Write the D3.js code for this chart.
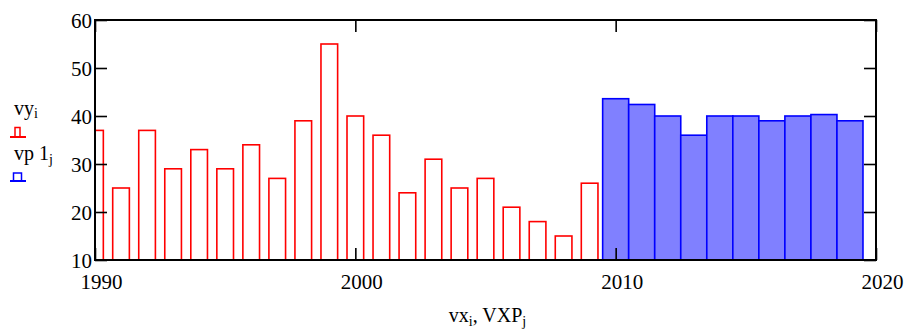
<!DOCTYPE html>
<html>
<head>
<meta charset="utf-8">
<script src="https://cdn.jsdelivr.net/npm/d3@7"></script>
<style>
  body { margin: 0; background: #fff; }
  svg { display: block; }
</style>
</head>
<body>
<svg id="chart" width="907" height="334"></svg>
<script>
// measured series (red outline bars)
const vxYears = [1990, 1991, 1992, 1993, 1994, 1995, 1996, 1997, 1998, 1999,
                 2000, 2001, 2002, 2003, 2004, 2005, 2006, 2007, 2008, 2009];
const vyValues = [37, 25, 37, 29, 33, 29, 34, 27, 39, 55,
                  40, 36, 24, 31, 25, 27, 21, 18, 15, 26];

// projected series (blue filled bars)
const vxpYears = [2010, 2011, 2012, 2013, 2014, 2015, 2016, 2017, 2018, 2019];
const vp1Values = [43.6, 42.4, 40, 36, 40, 40, 39, 40, 40.3, 39];

const xTicks = [1990, 2000, 2010, 2020];
const yTicks = [10, 20, 30, 40, 50, 60];

const serif = "'Liberation Serif', 'Times New Roman', 'DejaVu Serif', serif";

const margin = { left: 95, right: 31, top: 20, bottom: 74 };
const W = 907, H = 334;

const svg = d3.select("#chart").style("font-family", serif);

const x = d3.scaleLinear().domain([1990, 2020]).range([margin.left, W - margin.right]);
const y = d3.scaleLinear().domain([10, 60]).range([H - margin.bottom, margin.top]);

svg.append("clipPath")
    .attr("id", "plotClip")
  .append("rect")
    .attr("x", x(1990))
    .attr("y", y(60))
    .attr("width", x(2020) - x(1990))
    .attr("height", y(10) - y(60));

const plot = svg.append("g").attr("clip-path", "url(#plotClip)");

// red bars are narrower than a year, centred on it
const redW = 0.64;
plot.selectAll(".vy")
    .data(vxYears.map((yr, i) => ({ yr, v: vyValues[i] })))
    .join("rect")
    .attr("class", "vy")
    .attr("x", d => x(d.yr - redW / 2))
    .attr("width", d => x(d.yr + redW / 2) - x(d.yr - redW / 2))
    .attr("y", d => y(d.v))
    .attr("height", d => y(10) - y(d.v))
    .attr("fill", "none")
    .attr("stroke", "#ff0000")
    .attr("stroke-width", 1.6);

// blue bars fill the whole year
plot.selectAll(".vp1")
    .data(vxpYears.map((yr, i) => ({ yr, v: vp1Values[i] })))
    .join("rect")
    .attr("class", "vp1")
    .attr("x", d => x(d.yr - 0.5))
    .attr("width", d => x(d.yr + 0.5) - x(d.yr - 0.5))
    .attr("y", d => y(d.v))
    .attr("height", d => y(10) - y(d.v))
    .attr("fill", "#8080ff")
    .attr("stroke", "#0000ff")
    .attr("stroke-width", 1.6);

// axes, ticks pointing inward on all four sides
const tickLen = 12;

const gx = svg.append("g")
    .attr("transform", `translate(0,${y(10)})`)
    .call(d3.axisBottom(x).tickValues(xTicks).tickFormat(d3.format("d")).tickSize(-tickLen).tickSizeOuter(0));
gx.selectAll("text")
    .attr("y", 14)
    .attr("dx", 6)
    .style("font-family", serif)
    .style("font-size", "21px");

svg.append("g")
    .attr("transform", `translate(0,${y(60)})`)
    .call(d3.axisTop(x).tickValues(xTicks).tickFormat("").tickSize(-tickLen).tickSizeOuter(0));

const gy = svg.append("g")
    .attr("transform", `translate(${x(1990)},0)`)
    .call(d3.axisLeft(y).tickValues(yTicks).tickSize(-tickLen).tickSizeOuter(0).tickPadding(3));
gy.selectAll("text")
    .attr("dy", "0.36em")
    .style("font-family", serif)
    .style("font-size", "21px");

svg.append("g")
    .attr("transform", `translate(${x(2020)},0)`)
    .call(d3.axisRight(y).tickValues(yTicks).tickFormat("").tickSize(-tickLen).tickSizeOuter(0));

svg.selectAll(".domain").remove();
svg.selectAll(".tick line").attr("stroke", "#000").attr("stroke-width", 1.6);

// frame
svg.append("rect")
    .attr("x", x(1990))
    .attr("y", y(60))
    .attr("width", x(2020) - x(1990))
    .attr("height", y(10) - y(60))
    .attr("fill", "none")
    .attr("stroke", "#000")
    .attr("stroke-width", 2);

// x-axis title
const xt = svg.append("text")
    .attr("x", (x(1990) + x(2020)) / 2 + 2)
    .attr("y", 322)
    .attr("text-anchor", "middle")
    .style("font-family", serif)
    .style("font-size", "20px");
xt.append("tspan").text("vx");
xt.append("tspan").attr("dy", 4).style("font-size", "14px").text("i");
xt.append("tspan").attr("dy", -4).text(", VXP");
xt.append("tspan").attr("dy", 4).style("font-size", "14px").text("j");

// legend
const leg1 = svg.append("text").attr("x", 14).attr("y", 115)
    .style("font-family", serif).style("font-size", "20px");
leg1.append("tspan").text("vy");
leg1.append("tspan").attr("dy", 3).style("font-size", "14px").text("i");

const leg2 = svg.append("text").attr("x", 14).attr("y", 160)
    .style("font-family", serif).style("font-size", "20px");
leg2.append("tspan").text("vp 1");
leg2.append("tspan").attr("dy", 4).style("font-size", "14px").text("j");

// legend swatches
svg.append("line").attr("x1", 10).attr("x2", 26).attr("y1", 137).attr("y2", 137)
    .attr("stroke", "#ff0000").attr("stroke-width", 2);
svg.append("rect").attr("x", 15).attr("y", 127.5).attr("width", 5).attr("height", 9.5)
    .attr("fill", "none").attr("stroke", "#ff0000").attr("stroke-width", 1.5);

svg.append("line").attr("x1", 10).attr("x2", 26).attr("y1", 181).attr("y2", 181)
    .attr("stroke", "#0000ff").attr("stroke-width", 2);
svg.append("rect").attr("x", 13.5).attr("y", 173).attr("width", 8).attr("height", 8)
    .attr("fill", "none").attr("stroke", "#0000ff").attr("stroke-width", 1.5);
</script>
</body>
</html>
